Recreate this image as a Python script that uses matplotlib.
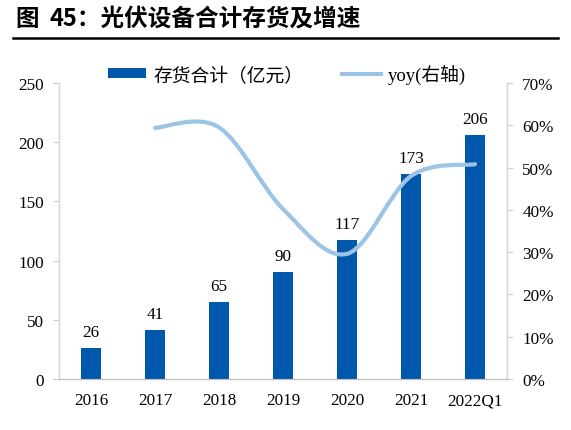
import matplotlib
matplotlib.use("Agg")
import matplotlib.pyplot as plt
from matplotlib.path import Path
from matplotlib.patches import PathPatch
from matplotlib.lines import Line2D
from matplotlib.patches import Patch
import numpy as np

categories = ["2016", "2017", "2018", "2019", "2020", "2021", "2022Q1"]
inventory = [26, 41, 65, 90, 117, 173, 206]
yoy_cats = ["2017", "2018", "2019", "2020", "2021", "2022Q1"]
yoy = [59.4, 59.5, 40.2, 29.6, 48.0, 50.8]
left_ticks = [0, 50, 100, 150, 200, 250]
right_ticks = [0, 10, 20, 30, 40, 50, 60, 70]

bar_color = "#0058AA"
line_color = "#9DC3E6"
serif = ["Liberation Serif", "Noto Sans CJK SC"]

fig = plt.figure(figsize=(5.71, 4.31), dpi=100)
ax = fig.add_axes([59/571, 1-380/431, (507-59)/571, (380-84)/431])
ax2 = ax.twinx()

x = np.arange(len(categories))
ax.bar(x, inventory, width=0.31, color=bar_color, zorder=2)
for xi, v in zip(x, inventory):
    ax.annotate(str(v), (xi, v), xytext=(0, 6), textcoords="offset points",
                ha="center", va="bottom", fontsize=12.3, family=serif)

ax.set_xlim(-0.5, len(categories) - 0.5)
ax.set_ylim(0, 250)
ax.set_yticks(left_ticks)
ax.set_yticklabels([str(t) for t in left_ticks], family=serif, fontsize=12.3)
ax.set_xticks(x)
ax.set_xticklabels(categories, family=serif, fontsize=12.3)
ax.tick_params(axis="x", length=0, pad=9.5)
ax.tick_params(axis="y", length=4, color="#D0D0D0", pad=7)

ax2.set_ylim(0, 70)
ax2.set_yticks(right_ticks)
ax2.set_yticklabels([f"{t}%" for t in right_ticks], family=serif, fontsize=12.3)
ax2.tick_params(axis="y", length=4, color="#D0D0D0", pad=7)

for a in (ax, ax2):
    a.spines["top"].set_visible(False)
    a.spines["left"].set_color("#D9D9D9")
    a.spines["right"].set_color("#D9D9D9")
    a.spines["bottom"].set_color("#BFBFBF")
    a.spines["left"].set_linewidth(1.0)
    a.spines["right"].set_linewidth(1.0)

# smoothed line (Catmull-Rom style Bezier through the data points)
px = np.array([categories.index(c) for c in yoy_cats], dtype=float)
py = np.array(yoy, dtype=float)
n = len(px)
verts = [(px[0], py[0])]
codes = [Path.MOVETO]
for i in range(n - 1):
    p0 = (px[i-1], py[i-1]) if i > 0 else (px[i], py[i])
    p1 = (px[i], py[i])
    p2 = (px[i+1], py[i+1])
    p3 = (px[i+2], py[i+2]) if i + 2 < n else (px[i+1], py[i+1])
    c1 = (p1[0] + (p2[0]-p0[0])/6, p1[1] + (p2[1]-p0[1])/6)
    c2 = (p2[0] - (p3[0]-p1[0])/6, p2[1] - (p3[1]-p1[1])/6)
    verts += [c1, c2, p2]
    codes += [Path.CURVE4]*3
path = Path(verts, codes)
ax2.add_patch(PathPatch(path, facecolor="none", edgecolor=line_color,
                        lw=3.0, capstyle="round", zorder=3))

handles = [Patch(facecolor=bar_color, edgecolor="none"),
           Line2D([0], [0], color=line_color, lw=3.0)]
labels = ["存货合计（亿元）", "yoy(右轴)"]
leg = fig.legend(handles, labels, loc="center left", bbox_to_anchor=(108/571, 1-75/431),
                 ncol=2, frameon=False, prop={"family": serif, "size": 13.5},
                 borderpad=0, borderaxespad=0,
                 handlelength=2.05, handleheight=0.45, columnspacing=2.1, handletextpad=0.35)

title_font = dict(fontsize=17, fontweight="bold", family=["Noto Sans CJK SC"], va="center")
fig.text(15/571, 1-19/431, "图", ha="left", **title_font)
fig.text(50/571, 1-19/431, "45：光伏设备合计存货及增速", ha="left", **title_font)
fig.add_artist(Line2D([13/571, 558/571], [1-39/431, 1-39/431], color="black", lw=1.8))

fig.savefig("out.png", dpi=100)
